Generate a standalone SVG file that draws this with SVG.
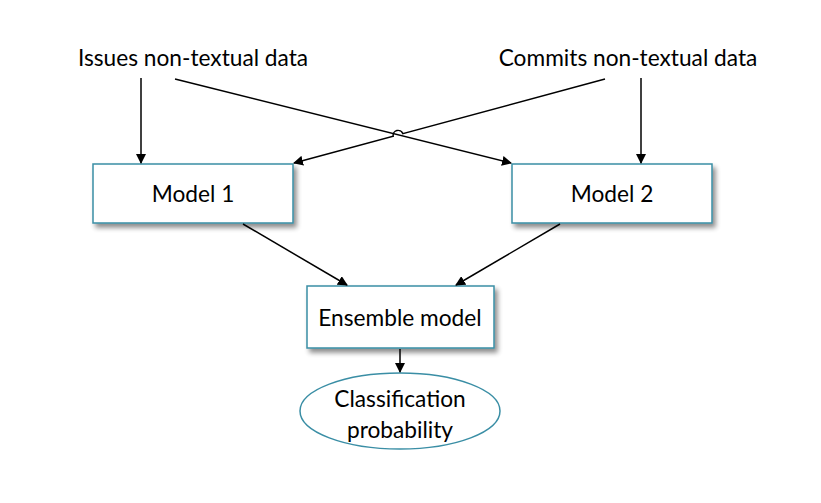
<svg xmlns="http://www.w3.org/2000/svg" width="821" height="503" viewBox="0 0 821 503">
<style>
.t{font-family:Lato,"Open Sans","Liberation Sans",sans-serif;font-size:22.7px;fill:#000;text-anchor:middle}
.box{fill:#fff;stroke:#3a8ea5;stroke-width:1.5}
.c{stroke:#000;stroke-width:1.5;fill:none}
</style>
<defs>
<marker id="ah" markerWidth="10" markerHeight="10" refX="9" refY="5" orient="auto" markerUnits="userSpaceOnUse">
<path d="M0,0 L10,5 L0,10 Z" fill="#000"/>
</marker>
<filter id="sh" x="-10%" y="-10%" width="130%" height="140%">
<feGaussianBlur in="SourceAlpha" stdDeviation="2.5"/>
<feOffset dx="3" dy="4" result="b"/>
<feComponentTransfer><feFuncA type="linear" slope="0.45"/></feComponentTransfer>
<feMerge><feMergeNode/><feMergeNode in="SourceGraphic"/></feMerge>
</filter>
</defs>
<rect width="821" height="503" fill="#fff"/>
<g id="issues"><text class="t" x="193" y="66">Issues non-textual data</text></g>
<g id="commits"><text class="t" x="628" y="66">Commits non-textual data</text></g>
<g id="model1"><rect class="box" x="93" y="164" width="200" height="59" filter="url(#sh)"/><text class="t" x="193" y="202">Model 1</text></g>
<g id="model2"><rect class="box" x="512" y="164" width="200" height="59" filter="url(#sh)"/><text class="t" x="612" y="202">Model 2</text></g>
<g id="ensemble"><rect class="box" x="307" y="286" width="187" height="62" filter="url(#sh)"/><text class="t" x="400" y="326">Ensemble model</text></g>
<g id="classification"><ellipse class="box" cx="400" cy="411" rx="100" ry="38"/><text class="t" x="400" y="407">Classification</text><text class="t" x="400" y="438">probability</text></g>
<g id="connectors">
<path class="c" d="M141,78 L141,163" marker-end="url(#ah)"/>
<path class="c" d="M641,78 L641,163" marker-end="url(#ah)"/>
<path class="c" d="M175,79 L511,163" marker-end="url(#ah)"/>
<path class="c" d="M605,79 L402.8,133.6 A5,5 0 0 0 393.2,136.2 L294,163" marker-end="url(#ah)"/>
<path class="c" d="M243,224 L347,285" marker-end="url(#ah)"/>
<path class="c" d="M560,224 L456,285" marker-end="url(#ah)"/>
<path class="c" d="M400,349 L400,372" marker-end="url(#ah)"/>
</g>
</svg>
